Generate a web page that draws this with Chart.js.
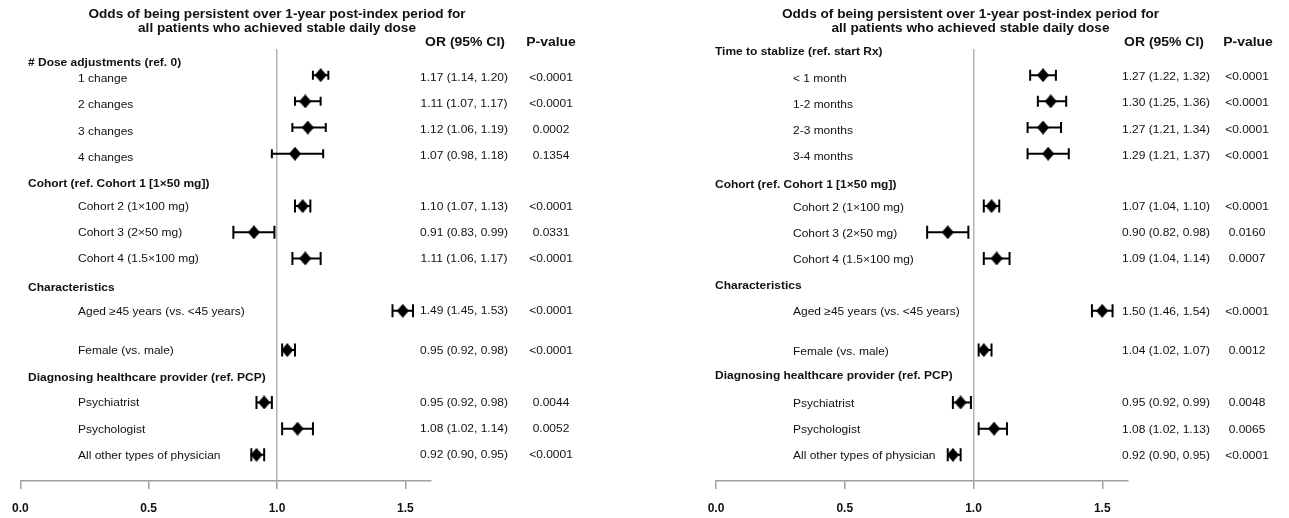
<!DOCTYPE html>
<html><head><meta charset="utf-8">
<script src="https://cdn.jsdelivr.net/npm/chart.js@4/dist/chart.umd.min.js"></script>
<style>
html,body{margin:0;padding:0;background:#fff;}
#wrap{position:relative;width:1289px;height:518px;overflow:hidden;background:#fff;}
#left{position:absolute;left:0;top:0;}
#right{position:absolute;left:645px;top:0;}
</style></head><body>
<div id="wrap"><canvas id="left" width="645" height="518"></canvas><canvas id="right" width="644" height="518"></canvas></div>
<script>
// ---------- DATA ----------
const titleLines = ['Odds of being persistent over 1-year post-index period for', 'all patients who achieved stable daily dose'];
const columnHeads = ['OR (95% CI)', 'P-value'];
const xTickValues = [0, 0.5, 1.0, 1.5];
const xTickLabels = ['0.0', '0.5', '1.0', '1.5'];

// Left panel
const leftGroups = ['# Dose adjustments (ref. 0)', 'Cohort (ref. Cohort 1 [1×50 mg])', 'Characteristics', 'Diagnosing healthcare provider (ref. PCP)'];
const leftRows = ['', '# Dose adjustments (ref. 0)', '1 change', '', '2 changes', '', '3 changes', '', '4 changes', '',
  'Cohort (ref. Cohort 1 [1×50 mg])', '', 'Cohort 2 (1×100 mg)', '', 'Cohort 3 (2×50 mg)', '', 'Cohort 4 (1.5×100 mg)', '',
  'Characteristics', '', 'Aged ≥45 years (vs. <45 years)', '', '', 'Female (vs. male)', '',
  'Diagnosing healthcare provider (ref. PCP)', '', 'Psychiatrist', '', 'Psychologist', '', 'All other types of physician', '', ''];
const leftItems = ['1 change', '2 changes', '3 changes', '4 changes', 'Cohort 2 (1×100 mg)', 'Cohort 3 (2×50 mg)', 'Cohort 4 (1.5×100 mg)',
  'Aged ≥45 years (vs. <45 years)', 'Female (vs. male)', 'Psychiatrist', 'Psychologist', 'All other types of physician'];
const leftOR   = [1.17, 1.11, 1.12, 1.07, 1.10, 0.91, 1.11, 1.49, 1.04, 0.95, 1.08, 0.92];
const leftLow  = [1.14, 1.07, 1.06, 0.98, 1.07, 0.83, 1.06, 1.45, 1.02, 0.92, 1.02, 0.90];
const leftHigh = [1.20, 1.17, 1.19, 1.18, 1.13, 0.99, 1.17, 1.53, 1.07, 0.98, 1.14, 0.95];
const leftCI = ['1.17 (1.14, 1.20)', '1.11 (1.07, 1.17)', '1.12 (1.06, 1.19)', '1.07 (0.98, 1.18)', '1.10 (1.07, 1.13)', '0.91 (0.83, 0.99)',
  '1.11 (1.06, 1.17)', '1.49 (1.45, 1.53)', '0.95 (0.92, 0.98)', '0.95 (0.92, 0.98)', '1.08 (1.02, 1.14)', '0.92 (0.90, 0.95)'];
const leftP = ['<0.0001', '<0.0001', '0.0002', '0.1354', '<0.0001', '0.0331', '<0.0001', '<0.0001', '<0.0001', '0.0044', '0.0052', '<0.0001'];

// Right panel
const rightGroups = ['Time to stablize (ref. start Rx)', 'Cohort (ref. Cohort 1 [1×50 mg])', 'Characteristics', 'Diagnosing healthcare provider (ref. PCP)'];
const rightRows = ['Time to stablize (ref. start Rx)', '', '< 1 month', '', '1-2 months', '', '2-3 months', '', '3-4 months', '',
  'Cohort (ref. Cohort 1 [1×50 mg])', '', 'Cohort 2 (1×100 mg)', '', 'Cohort 3 (2×50 mg)', '', 'Cohort 4 (1.5×100 mg)', '',
  'Characteristics', '', 'Aged ≥45 years (vs. <45 years)', '', '', 'Female (vs. male)', '',
  'Diagnosing healthcare provider (ref. PCP)', '', 'Psychiatrist', '', 'Psychologist', '', 'All other types of physician', '', ''];
const rightItems = ['< 1 month', '1-2 months', '2-3 months', '3-4 months', 'Cohort 2 (1×100 mg)', 'Cohort 3 (2×50 mg)', 'Cohort 4 (1.5×100 mg)',
  'Aged ≥45 years (vs. <45 years)', 'Female (vs. male)', 'Psychiatrist', 'Psychologist', 'All other types of physician'];
const rightOR   = [1.27, 1.30, 1.27, 1.29, 1.07, 0.90, 1.09, 1.50, 1.04, 0.95, 1.08, 0.92];
const rightLow  = [1.22, 1.25, 1.21, 1.21, 1.04, 0.82, 1.04, 1.46, 1.02, 0.92, 1.02, 0.90];
const rightHigh = [1.32, 1.36, 1.34, 1.37, 1.10, 0.98, 1.14, 1.54, 1.07, 0.99, 1.13, 0.95];
const rightCI = ['1.27 (1.22, 1.32)', '1.30 (1.25, 1.36)', '1.27 (1.21, 1.34)', '1.29 (1.21, 1.37)', '1.07 (1.04, 1.10)', '0.90 (0.82, 0.98)',
  '1.09 (1.04, 1.14)', '1.50 (1.46, 1.54)', '1.04 (1.02, 1.07)', '0.95 (0.92, 0.99)', '1.08 (1.02, 1.13)', '0.92 (0.90, 0.95)'];
const rightP = ['<0.0001', '<0.0001', '<0.0001', '<0.0001', '<0.0001', '0.0160', '0.0007', '<0.0001', '0.0012', '0.0048', '0.0065', '<0.0001'];

// ---------- STYLE ----------
const FONT = "'Liberation Sans', Arial, Helvetica, sans-serif";
const SX = 1.1;           // horizontal text stretch of the original
const INK = '#111';

function txt(ctx, s, x, y, size, bold, align) {
  ctx.save();
  ctx.translate(x, y);
  ctx.scale(SX, 1);
  ctx.font = (bold ? 'bold ' : '') + size + 'px ' + FONT;
  ctx.textAlign = align;
  ctx.textBaseline = 'middle';
  ctx.fillStyle = INK;
  ctx.fillText(s, 0, 0);
  ctx.restore();
}

function makeDiamond(w, h) {
  const c = document.createElement('canvas');
  c.width = w; c.height = h;
  const g = c.getContext('2d');
  g.fillStyle = '#000';
  g.beginPath();
  g.moveTo(w / 2, 0); g.lineTo(w, h / 2); g.lineTo(w / 2, h); g.lineTo(0, h / 2);
  g.closePath(); g.fill();
  return c;
}
const diamond = makeDiamond(12, 14);

function makePanel(canvasId, p) {
  const points = p.items.map((lab, i) => ({ x: p.or[i], y: lab }));
  const panelPlugin = {
    id: 'panel_' + canvasId,
    beforeDatasetsDraw(chart) {
      const xs = chart.scales.x, ys = chart.scales.y, ctx = chart.ctx;
      ctx.save();
      ctx.strokeStyle = '#000';
      ctx.lineWidth = 2;
      p.items.forEach((lab, i) => {
        const y = ys.getPixelForValue(p.rows.indexOf(lab));
        const x1 = xs.getPixelForValue(p.low[i]);
        const x2 = xs.getPixelForValue(p.high[i]);
        const h = i < 4 ? p.cap0 : p.cap;
        ctx.beginPath();
        ctx.moveTo(x1, y); ctx.lineTo(x2, y);
        ctx.moveTo(x1, y - h); ctx.lineTo(x1, y + h);
        ctx.moveTo(x2, y - h); ctx.lineTo(x2, y + h);
        ctx.stroke();
      });
      ctx.restore();
    },
    afterDraw(chart) {
      const xs = chart.scales.x, ys = chart.scales.y, ctx = chart.ctx;
      const cx = xs.getPixelForValue(1);
      txt(ctx, titleLines[0], cx + p.titleDx, 15, 12.4, true, 'center');
      txt(ctx, titleLines[1], cx + p.titleDx, 29, 12.4, true, 'center');
      txt(ctx, columnHeads[0], p.orHeadX, 42, 12.7, true, 'center');
      txt(ctx, columnHeads[1], p.pHeadX, 42, 12.7, true, 'center');
      p.groups.forEach((g, gi) => {
        const y = ys.getPixelForValue(p.rows.indexOf(g));
        txt(ctx, g, p.headX, y + p.headDy[gi], 10.9, true, 'left');
      });
      p.items.forEach((lab, i) => {
        const y = ys.getPixelForValue(p.rows.indexOf(lab));
        const dy = i < 4 ? p.labelDy0 : p.labelDy;
        txt(ctx, lab, p.labelX, y + dy, 10.9, false, 'left');
        txt(ctx, p.ci[i], p.ciX, y + dy * 0.6, 10.9, false, 'center');
        txt(ctx, p.pv[i], p.pX, y + dy * 0.6, 10.9, false, 'center');
      });
    }
  };
  return new Chart(document.getElementById(canvasId), {
    type: 'scatter',
    data: { datasets: [{ data: points, pointStyle: diamond, pointRadius: 7, pointHoverRadius: 7,
      backgroundColor: '#000', borderColor: '#000' }] },
    options: {
      responsive: false, animation: false, events: [],
      layout: { padding: { left: p.padL, right: p.padR, top: 49, bottom: 0 } },
      plugins: { legend: { display: false }, tooltip: { enabled: false }, title: { display: false } },
      scales: {
        x: {
          type: 'linear', min: 0, max: 1.6,
          afterBuildTicks: s => { s.ticks = xTickValues.map(v => ({ value: v })); },
          afterFit: s => { s.height = 37; },
          ticks: { callback: (v, i) => xTickLabels[i], font: { family: FONT, size: 12, weight: 'bold' },
            color: INK, padding: 12, maxRotation: 0, autoSkip: false },
          grid: { color: c => (c.tick && c.tick.value === 1) ? '#b4b4b4' : 'rgba(0,0,0,0)', lineWidth: 1.5,
            drawTicks: true, tickLength: 8, tickColor: '#a0a0a0', tickWidth: 1.5 },
          border: { display: true, color: '#a0a0a0', width: 1.5 }
        },
        y: { type: 'category', labels: p.rows, offset: false, display: false }
      }
    },
    plugins: [panelPlugin]
  });
}

makePanel('left', {
  groups: leftGroups, rows: leftRows, items: leftItems, or: leftOR, low: leftLow, high: leftHigh, ci: leftCI, pv: leftP,
  padL: 19, padR: 214, headX: 28, labelX: 78, ciX: 464, pX: 551, orHeadX: 465, pHeadX: 551,
  titleDx: 0, labelDy0: 4, labelDy: 1, headDy: [0.5, 4, 3.5, 2], cap0: 4.5, cap: 6.5
});
makePanel('right', {
  groups: rightGroups, rows: rightRows, items: rightItems, or: rightOR, low: rightLow, high: rightHigh, ci: rightCI, pv: rightP,
  padL: 71, padR: 161, headX: 70, labelX: 148, ciX: 521, pX: 602, orHeadX: 519, pHeadX: 603,
  titleDx: -3, labelDy0: 3.5, labelDy: 1.5, headDy: [2.5, 5, 1.5, 0], cap0: 5.5, cap: 6.5
});
</script>
</body></html>
